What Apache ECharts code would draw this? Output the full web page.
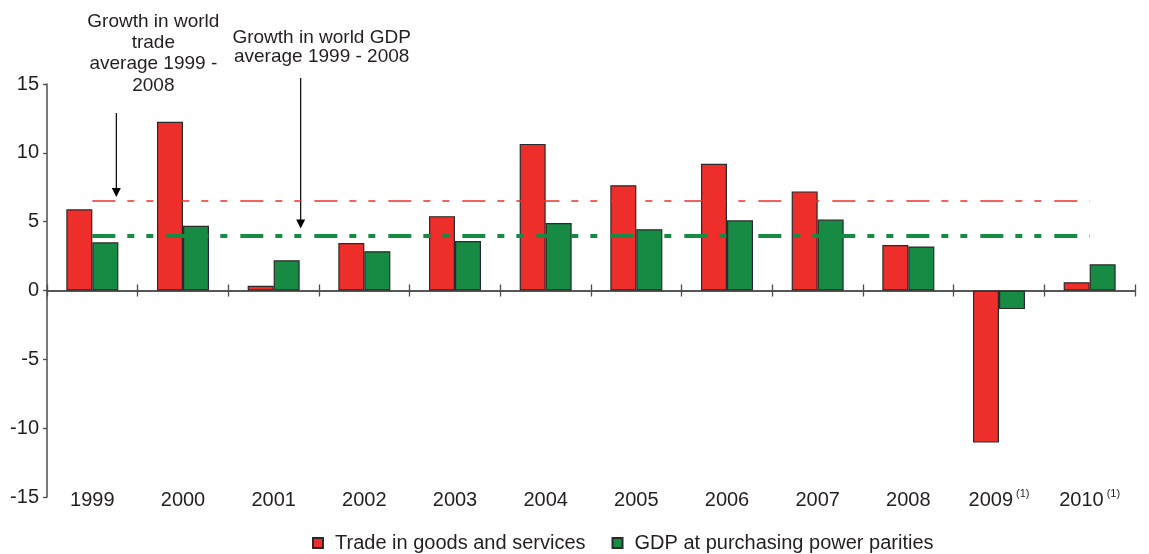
<!DOCTYPE html>
<html>
<head>
<meta charset="utf-8">
<script src="https://cdn.jsdelivr.net/npm/echarts@6/dist/echarts.min.js"></script>
<style>
  html, body { margin: 0; padding: 0; background: #ffffff; }
  #chart { width: 1149px; height: 554px; }
</style>
</head>
<body>
<div id="chart"></div>
<script>
// Annual growth, per cent
const categories = ['1999', '2000', '2001', '2002', '2003', '2004', '2005', '2006', '2007', '2008', '2009', '2010'];
const tradeGrowth = [5.9, 12.25, 0.35, 3.45, 5.4, 10.65, 7.65, 9.2, 7.2, 3.3, -11.05, 0.6];
const gdpGrowth = [3.5, 4.7, 2.2, 2.85, 3.6, 4.9, 4.45, 5.1, 5.15, 3.2, -1.35, 1.9];
const footnotes = { '2009': '(1)', '2010': '(1)' };

// 1999-2008 averages
const tradeAverage = 6.5;
const gdpAverage = 4.0;

const seriesNames = ['Trade in goods and services', 'GDP at purchasing power parities'];
const annotationTrade = 'Growth in world\ntrade\naverage 1999 -\n2008';
const annotationGdp = 'Growth in world GDP\naverage 1999 - 2008';

const yMin = -15, yMax = 15, yStep = 5;

const FONT = '"Liberation Sans", Arial, sans-serif';
const TEXT = '#231F20';
const AXIS = '#4d4d4d';
const RED = '#EE2E2A';
const GREEN = '#178A44';
const DASH = [23, 12, 7, 12, 7, 13];

const chart = echarts.init(document.getElementById('chart'), null, { renderer: 'canvas' });

function zeroAxis(position, inside) {
  return {
    type: 'category',
    data: categories,
    gridIndex: 0,
    position: position,
    boundaryGap: true,
    axisLine: { show: true, onZero: true, onZeroAxisIndex: 0, lineStyle: { color: AXIS, width: 1.5 } },
    axisTick: { show: true, inside: inside, length: 6, lineStyle: { color: AXIS, width: 1.3 } },
    axisLabel: { show: false },
    splitLine: { show: false }
  };
}

function averageLine(value, style) {
  return {
    silent: true,
    symbol: 'none',
    label: { show: false },
    lineStyle: style,
    data: [[
      { coord: [categories[0], value] },
      { coord: [categories[categories.length - 1], value] }
    ]]
  };
}

chart.setOption({
  animation: false,
  textStyle: { fontFamily: FONT, color: TEXT },
  grid: { left: 47, right: 14, top: 84, bottom: 57, containLabel: false },
  legend: {
    left: 312,
    top: 533,
    padding: 0,
    itemWidth: 10,
    itemHeight: 10,
    itemGap: 26,
    icon: 'rect',
    textStyle: { fontFamily: FONT, fontSize: 20, color: TEXT, padding: [0, 0, 0, 7] },
    data: seriesNames
  },
  xAxis: [
    {
      // year labels along the bottom of the plot
      type: 'category',
      data: categories,
      position: 'bottom',
      axisLine: { show: false, onZero: false },
      axisTick: { show: false },
      splitLine: { show: false },
      axisLabel: {
        interval: 0,
        margin: 3,
        verticalAlign: 'middle',
        fontFamily: FONT,
        fontSize: 20,
        color: TEXT,
        formatter: v => footnotes[v] ? v + '{sup|' + footnotes[v] + '}' : v,
        rich: {
          sup: { fontFamily: FONT, fontSize: 11, color: TEXT, padding: [0, 0, 12, 3] }
        }
      }
    },
    // zero line, ticks crossing it on both sides
    zeroAxis('top', true),
    zeroAxis('top', false)
  ],
  yAxis: {
    type: 'value',
    min: yMin,
    max: yMax,
    interval: yStep,
    axisLine: { show: true, onZero: false, lineStyle: { color: AXIS, width: 1.5 } },
    axisTick: { show: true, length: 4, lineStyle: { color: AXIS, width: 1.3 } },
    axisLabel: { margin: 8, fontFamily: FONT, fontSize: 20, color: TEXT },
    splitLine: { show: false }
  },
  series: [
    {
      name: seriesNames[0],
      type: 'bar',
      xAxisIndex: 0,
      yAxisIndex: 0,
      data: tradeGrowth,
      barWidth: 26,
      barGap: '0%',
      itemStyle: { color: RED, borderColor: '#2a2a2a', borderWidth: 1.2 }
    },
    {
      name: seriesNames[1],
      type: 'bar',
      xAxisIndex: 0,
      yAxisIndex: 0,
      data: gdpGrowth,
      barWidth: 26,
      barGap: '0%',
      itemStyle: { color: GREEN, borderColor: '#2a2a2a', borderWidth: 1.2 }
    },
    {
      // 1999-2008 average growth lines, drawn over the bars
      name: 'averages',
      type: 'line',
      xAxisIndex: 0,
      yAxisIndex: 0,
      data: [],
      z: 5,
      markLine: averageLine(tradeAverage, { color: 'rgba(238,46,42,0.75)', width: 2, type: DASH })
    },
    {
      name: 'averagesGdp',
      type: 'line',
      xAxisIndex: 0,
      yAxisIndex: 0,
      data: [],
      z: 5,
      markLine: averageLine(gdpAverage, { color: GREEN, width: 4, type: DASH })
    }
  ]
});

// Callout arrows pointing at the average lines, placed through the chart's own scales
function toPixel(cat, val) {
  return chart.convertToPixel({ xAxisIndex: 0, yAxisIndex: 0 }, [cat, val]);
}

function arrow(x, topY, tipY) {
  const head = 9;
  return {
    type: 'group',
    children: [
      { type: 'line', shape: { x1: x, y1: topY, x2: x, y2: tipY - head + 1 }, style: { stroke: '#000', lineWidth: 1.2 } },
      { type: 'polygon', shape: { points: [[x - 4.5, tipY - head], [x + 4.5, tipY - head], [x, tipY]] }, style: { fill: '#000' } }
    ]
  };
}

function note(text, x, y, lineHeight) {
  return {
    type: 'text',
    style: {
      text: text,
      x: x,
      y: y,
      align: 'center',
      verticalAlign: 'top',
      textAlign: 'center',
      textVerticalAlign: 'top',
      fontFamily: FONT,
      fontSize: 19,
      lineHeight: lineHeight,
      fill: TEXT
    }
  };
}

const tradeArrowX = toPixel(categories[0], 0)[0] + 24;
const tradeTipY = toPixel(categories[0], tradeAverage)[1] - 4;
const gdpArrowX = toPixel(categories[2], 0)[0] + 27;
const gdpTipY = toPixel(categories[2], gdpAverage)[1] - 7;

chart.setOption({
  graphic: [
    arrow(tradeArrowX, 113, tradeTipY),
    arrow(gdpArrowX, 78, gdpTipY),
    note(annotationTrade, tradeArrowX + 37, 11, 21.3),
    note(annotationGdp, gdpArrowX + 21, 29, 18.5)
  ]
});
</script>
</body>
</html>
